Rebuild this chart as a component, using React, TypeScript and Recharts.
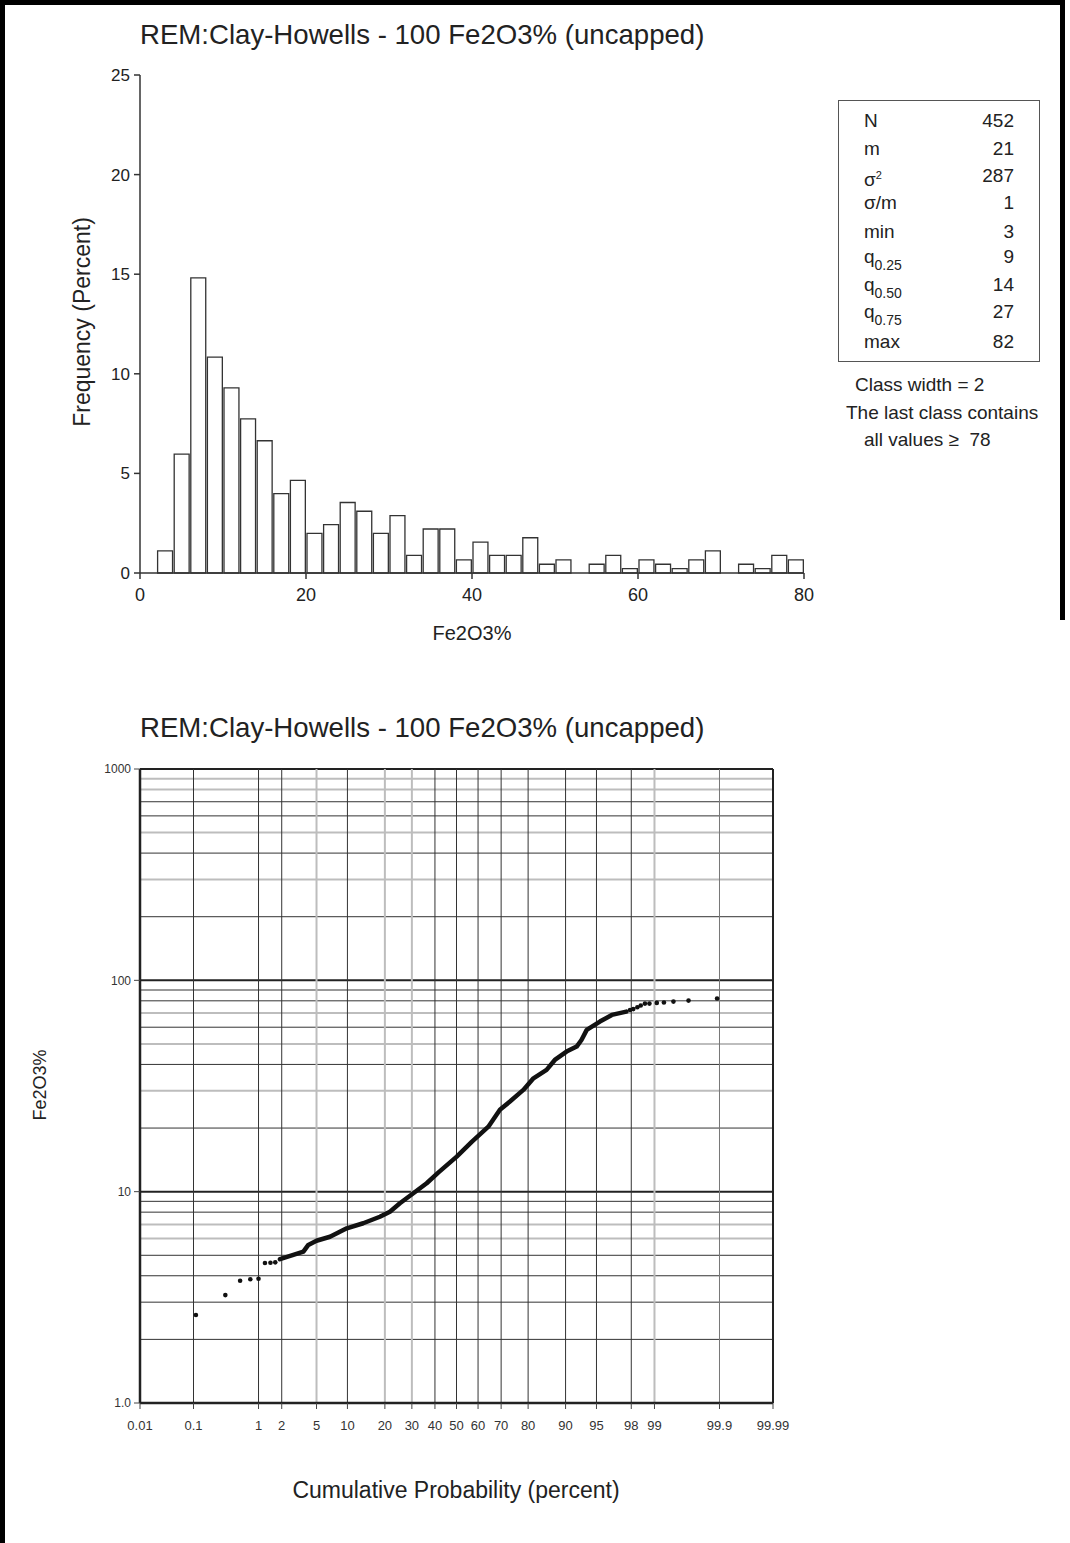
import React from 'react';
import {
  ComposedChart, Bar, Line, Scatter, XAxis, YAxis, ReferenceLine,
} from 'recharts';

// ---- histogram (class width 2, percent of N = 452) ----
const classMids = [1, 3, 5, 7, 9, 11, 13, 15, 17, 19, 21, 23, 25, 27, 29, 31, 33, 35, 37, 39,
  41, 43, 45, 47, 49, 51, 53, 55, 57, 59, 61, 63, 65, 67, 69, 71, 73, 75, 77, 79];
const classFreq = [0, 1.11, 5.97, 14.82, 10.84, 9.29, 7.74, 6.64, 3.98, 4.65,
  1.99, 2.43, 3.54, 3.1, 1.99, 2.88, 0.88, 2.21, 2.21, 0.66,
  1.55, 0.88, 0.88, 1.77, 0.44, 0.66, 0, 0.44, 0.88, 0.22,
  0.66, 0.44, 0.22, 0.66, 1.11, 0, 0.44, 0.22, 0.88, 0.66];
const histTicksX = [0, 20, 40, 60, 80];
const histTicksY = [0, 5, 10, 15, 20, 25];

const statLabels = ['N', 'm', 's2', 'σ/m', 'min', 'q0.25', 'q0.50', 'q0.75', 'max'];
const statValues = ['452', '21', '287', '1', '3', '9', '14', '27', '82'];

// ---- probability plot ----
// isolated low points (cumulative %, Fe2O3%)
const lowPct = [0.11, 0.33, 0.55, 0.77, 1.0, 1.22, 1.44, 1.66];
const lowVal = [2.61, 3.24, 3.79, 3.85, 3.87, 4.6, 4.61, 4.63];
// dense middle of the curve, read along the chain of dots
const midPct = [1.9, 2.76, 3.6, 4.08, 5.0, 6.86, 9.86, 13.65, 18.4, 21.7, 25.3, 30.6, 36.3, 41.5,
  50.1, 57.1, 64.6, 69.5, 73.5, 78.4, 81.7, 85.5, 87.6, 90.2, 92.1, 92.9, 93.7, 95.4, 96.6, 97.7];
const midVal = [4.79, 5.02, 5.2, 5.6, 5.86, 6.12, 6.71, 7.09, 7.61, 8.04, 8.81, 9.83, 10.96, 12.3,
  14.65, 17.2, 20.3, 24.4, 26.7, 30.3, 34.4, 37.7, 42.0, 46.0, 48.6, 52.2, 58.3, 63.8, 68.6, 71.1];
// isolated high points
const highPct = [97.93, 98.11, 98.32, 98.48, 98.66, 98.83, 99.07, 99.26, 99.46, 99.68, 99.89];
const highVal = [72.4, 73.1, 74.6, 76.0, 77.6, 77.6, 78.2, 78.6, 79.3, 80.2, 82.0];

const probLabels = ['0.01', '0.1', '1', '2', '5', '10', '20', '30', '40', '50', '60', '70', '80',
  '90', '95', '98', '99', '99.9', '99.99'];
const probLight = ['5', '20', '30', '99'];
const logTicks = [1, 10, 100, 1000];
const logMinor = [2, 3, 4, 5, 6, 7, 8, 9, 20, 30, 40, 50, 60, 70, 80, 90, 200, 300, 400, 500, 600, 700, 800, 900];
const logLight = [6, 7, 30, 50, 70, 300, 500, 800, 900];

// inverse normal CDF (Acklam) -> probability axis
function probit(p: number): number {
  const a = [-39.69683028665376, 220.9460984245205, -275.9285104469687, 138.357751867269, -30.66479806614716, 2.506628277459239];
  const b = [-54.47609879822406, 161.5858368580409, -155.6989798598866, 66.80131188771972, -13.28068155288572];
  const c = [-0.007784894002430293, -0.3223964580411365, -2.400758277161838, -2.549732539343734, 4.374664141464968, 2.938163982698783];
  const d = [0.007784695709041462, 0.3224671290700398, 2.445134137142996, 3.754408661907416];
  const pl = 0.02425;
  if (p < pl) {
    const q = Math.sqrt(-2 * Math.log(p));
    return (((((c[0] * q + c[1]) * q + c[2]) * q + c[3]) * q + c[4]) * q + c[5]) / ((((d[0] * q + d[1]) * q + d[2]) * q + d[3]) * q + 1);
  }
  if (p <= 1 - pl) {
    const q = p - 0.5;
    const r = q * q;
    return (((((a[0] * r + a[1]) * r + a[2]) * r + a[3]) * r + a[4]) * r + a[5]) * q / (((((b[0] * r + b[1]) * r + b[2]) * r + b[3]) * r + b[4]) * r + 1);
  }
  const q = Math.sqrt(-2 * Math.log(1 - p));
  return -(((((c[0] * q + c[1]) * q + c[2]) * q + c[3]) * q + c[4]) * q + c[5]) / ((((d[0] * q + d[1]) * q + d[2]) * q + d[3]) * q + 1);
}
const z = (pct: number | string) => probit(Number(pct) / 100);

const FONT = '"Liberation Sans", Arial, Helvetica, sans-serif';
const INK = '#222';

const histData = classMids.map((mid, i) => ({ mid, freq: classFreq[i] }));
const lowData = lowPct.map((p, i) => ({ z: z(p), v: lowVal[i] }));
const midData = midPct.map((p, i) => ({ z: z(p), v: midVal[i] }));
const highData = highPct.map((p, i) => ({ z: z(p), v: highVal[i] }));
const probTickZ = probLabels.map(z);
const zMin = probTickZ[0];
const zMax = probTickZ[probTickZ.length - 1];

const Dot = (props: any) => <circle cx={props.cx} cy={props.cy} r={2.3} fill="#111" />;

function StatLabel({ label }: { label: string }) {
  if (label === 's2') return <span>σ<sup style={{ fontSize: 11, verticalAlign: 7 }}>2</sup></span>;
  if (label.startsWith('q')) {
    return <span>q<sub style={{ fontSize: 14, verticalAlign: -7 }}>{label.slice(1)}</sub></span>;
  }
  return <span>{label}</span>;
}

const statRowY = [10, 38, 65, 92, 121, 146, 174, 201, 231];

export default function App() {
  const text = (s: React.CSSProperties): React.CSSProperties => ({
    position: 'absolute', whiteSpace: 'pre', color: INK, fontFamily: FONT, ...s,
  });
  return (
    <div style={{ position: 'absolute', left: 0, top: 0, width: 1070, height: 1543, background: '#fff', overflow: 'hidden', fontFamily: FONT }}>
      {/* page frame */}
      <div style={{ position: 'absolute', left: 0, top: 0, width: 1065, height: 5, background: '#000' }} />
      <div style={{ position: 'absolute', left: 0, top: 0, width: 5, height: 1543, background: '#000' }} />
      <div style={{ position: 'absolute', left: 1060, top: 0, width: 5, height: 620, background: '#000' }} />

      <div style={text({ left: 140, top: 21, fontSize: 27.6, lineHeight: '27px' })}>REM:Clay-Howells - 100 Fe2O3% (uncapped)</div>

      <div style={{ position: 'absolute', left: 0, top: 0 }}>
        <ComposedChart width={830} height={660} data={histData} margin={{ top: 75, right: 26, bottom: 27, left: 0 }}
          barCategoryGap={0} barGap={0}>
          <XAxis type="number" dataKey="mid" domain={[0, 80]} ticks={histTicksX} allowDataOverflow
            height={60} tickSize={6} tickMargin={9}
            axisLine={{ stroke: '#333', strokeWidth: 1.5 }} tickLine={{ stroke: '#333', strokeWidth: 1.5 }}
            tick={{ fontSize: 18, fill: INK, fontFamily: FONT }} />
          <YAxis type="number" domain={[0, 25]} ticks={histTicksY} width={140} tickSize={6} tickMargin={4}
            axisLine={{ stroke: '#333', strokeWidth: 1.5 }} tickLine={{ stroke: '#333', strokeWidth: 1.5 }}
            tick={{ fontSize: 17, fill: INK, fontFamily: FONT }} />
          <Bar dataKey="freq" fill="#fff" stroke="#333" strokeWidth={1.3} barSize={16.6} isAnimationActive={false} />
        </ComposedChart>
      </div>

      <div style={text({ left: 82, top: 322, fontSize: 23, transform: 'translate(-50%, -50%) rotate(-90deg)' })}>Frequency (Percent)</div>
      <div style={text({ left: 472, top: 622, fontSize: 20 })}><span style={{ position: 'relative', left: '-50%' }}>Fe2O3%</span></div>

      {/* statistics box */}
      <div style={{ position: 'absolute', left: 838, top: 100, width: 200, height: 260, border: '1.5px solid #555' }}>
        {statLabels.map((l, i) => (
          <React.Fragment key={l}>
            <div style={text({ left: 25, top: statRowY[i], fontSize: 19, lineHeight: '19px' })}><StatLabel label={l} /></div>
            <div style={text({ right: 25, top: statRowY[i], fontSize: 19, lineHeight: '19px' })}>{statValues[i]}</div>
          </React.Fragment>
        ))}
      </div>
      <div style={text({ left: 855, top: 374, fontSize: 19 })}>Class width = 2</div>
      <div style={text({ left: 846, top: 402, fontSize: 19 })}>The last class contains</div>
      <div style={text({ left: 864, top: 429, fontSize: 19 })}>all values ≥  78</div>

      {/* probability plot */}
      <div style={text({ left: 140, top: 714, fontSize: 27.6, lineHeight: '27px' })}>REM:Clay-Howells - 100 Fe2O3% (uncapped)</div>

      <div style={{ position: 'absolute', left: 0, top: 700 }}>
        <ComposedChart width={800} height={760} margin={{ top: 69, right: 27, bottom: 7, left: 0 }}>
          <XAxis type="number" dataKey="z" domain={[zMin, zMax]} ticks={probTickZ} interval={0} allowDataOverflow
            height={50} tickSize={6} tickMargin={12}
            tickFormatter={(_v: number, i: number) => probLabels[i]}
            axisLine={{ stroke: '#222', strokeWidth: 2.5 }} tickLine={{ stroke: '#444' }}
            tick={{ fontSize: 13, fill: '#333', fontFamily: FONT }} />
          <YAxis type="number" dataKey="v" scale="log" domain={[1, 1000]} ticks={logTicks} interval={0} allowDataOverflow
            width={140} tickSize={6} tickMargin={3}
            tickFormatter={(v: number) => (v === 1 ? '1.0' : String(v))}
            axisLine={{ stroke: '#222', strokeWidth: 2.5 }} tickLine={{ stroke: '#444' }}
            tick={{ fontSize: 12, fill: '#333', fontFamily: FONT }} />
          {logMinor.map(v => (
            <ReferenceLine key={'h' + v} y={v} ifOverflow="visible"
              stroke={logLight.includes(v) ? '#bdbdbd' : '#333'} strokeWidth={logLight.includes(v) ? 2 : 1} />
          ))}
          {[10, 100, 1000].map(v => (
            <ReferenceLine key={'H' + v} y={v} ifOverflow="visible" stroke="#222" strokeWidth={2} />
          ))}
          {probLabels.slice(1, -1).map((l, i) => (
            <ReferenceLine key={'v' + l} x={probTickZ[i + 1]} ifOverflow="visible"
              stroke={probLight.includes(l) ? '#bdbdbd' : (l === '99.9' ? '#777' : '#333')}
              strokeWidth={probLight.includes(l) ? 2 : 1} />
          ))}
          <ReferenceLine x={zMax} ifOverflow="visible" stroke="#222" strokeWidth={2} />
          <Line data={midData} dataKey="v" stroke="#111" strokeWidth={4.5} dot={false}
            strokeLinejoin="round" strokeLinecap="round" isAnimationActive={false} />
          <Scatter data={lowData} dataKey="v" shape={Dot} isAnimationActive={false} />
          <Scatter data={highData} dataKey="v" shape={Dot} isAnimationActive={false} />
        </ComposedChart>
      </div>

      <div style={text({ left: 40, top: 1085, fontSize: 18, transform: 'translate(-50%, -50%) rotate(-90deg)' })}>Fe2O3%</div>
      <div style={text({ left: 456, top: 1477, fontSize: 23 })}><span style={{ position: 'relative', left: '-50%' }}>Cumulative Probability (percent)</span></div>
    </div>
  );
}
